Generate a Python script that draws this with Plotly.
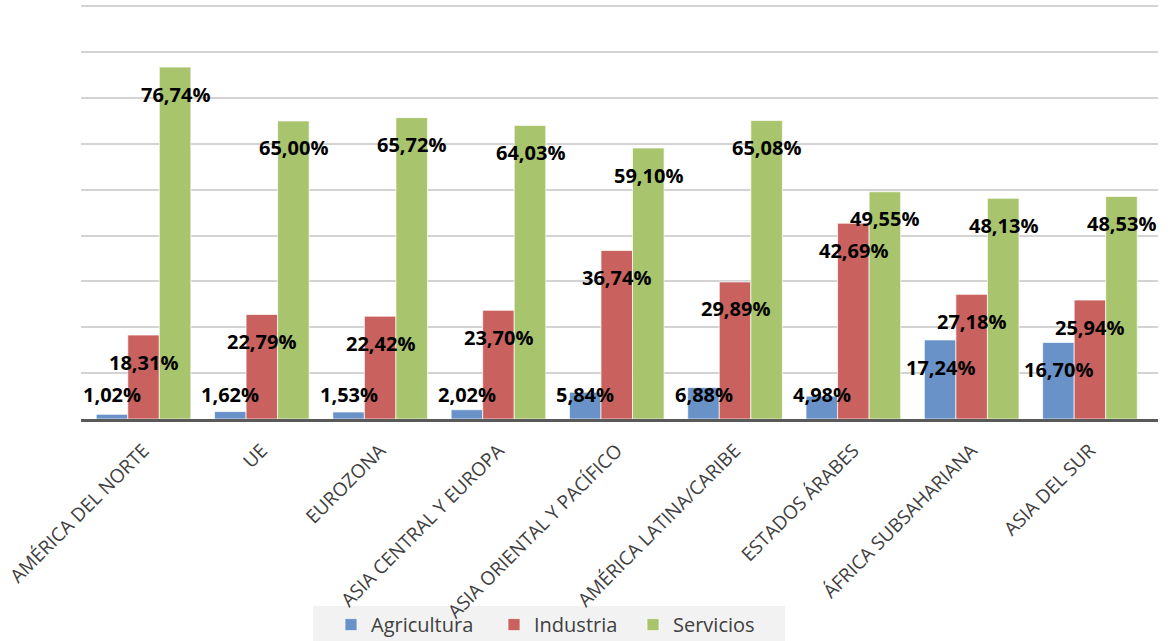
import plotly.graph_objects as go

# Employment by sector (% of total) per region
regiones = [
    "AMÉRICA DEL NORTE", "UE", "EUROZONA", "ASIA CENTRAL Y EUROPA",
    "ASIA ORIENTAL Y PACÍFICO", "AMÉRICA LATINA/CARIBE", "ESTADOS ÁRABES",
    "ÁFRICA SUBSAHARIANA", "ASIA DEL SUR",
]
agricultura = [1.02, 1.62, 1.53, 2.02, 5.84, 6.88, 4.98, 17.24, 16.70]
industria = [18.31, 22.79, 22.42, 23.70, 36.74, 29.89, 42.69, 27.18, 25.94]
servicios = [76.74, 65.00, 65.72, 64.03, 59.10, 65.08, 49.55, 48.13, 48.53]

series = [
    ("Agricultura", agricultura, "#6992C8"),
    ("Industria", industria, "#C9625F"),
    ("Servicios", servicios, "#A8C46D"),
]
# one legend per series so each entry can be placed on the shared strip
leyendas = ["legend", "legend2", "legend3"]
leyenda_x = [331, 494, 633]

W, H = 1169, 641
fig = go.Figure()
for (nombre, valores, color), ley in zip(series, leyendas):
    fig.add_trace(go.Bar(
        name=nombre, x=regiones, y=valores, legend=ley,
        marker=dict(color=color, line=dict(color="rgba(255,255,255,0.7)", width=1)),
        hoverinfo="skip",
    ))

# Value labels: centred on each bar, just inside its top end
bar_w = 0.8 / 3
anotaciones = []
for k, (nombre, valores, color) in enumerate(series):
    off = (k - 1) * bar_w
    for i, v in enumerate(valores):
        y_lab = max(v - 5.9, 5.35)
        anotaciones.append(dict(
            x=i + off, y=y_lab, xref="x", yref="y",
            text=f"{v:.2f}%".replace(".", ","),
            showarrow=False, xanchor="center", yanchor="middle",
            font=dict(family="Open Sans", size=20, color="#000000", weight="bold"),
        ))

leg_common = dict(
    orientation="h", xref="container", yref="container",
    xanchor="left", y=0.056, yanchor="top",
    bgcolor="rgba(0,0,0,0)",
    font=dict(family="Open Sans", size=20, color="#404040"),
    itemwidth=30,
)
leg_layout = {ley: dict(leg_common, x=lx / W) for ley, lx in zip(leyendas, leyenda_x)}

fig.update_layout(
    width=W, height=H,
    margin=dict(l=81, r=11, t=4, b=222),
    plot_bgcolor="white", paper_bgcolor="white",
    barmode="group", bargap=0.2, bargroupgap=0,
    annotations=anotaciones,
    showlegend=True,
    font=dict(family="Open Sans"),
    shapes=[dict(
        type="rect", xref="paper", yref="paper", layer="below",
        x0=(313 - 81) / 1077, x1=(785 - 81) / 1077,
        y0=(419 - 641) / 415, y1=(419 - 606) / 415,
        fillcolor="#F2F2F2", line=dict(width=0),
    )],
    **leg_layout,
)
fig.update_yaxes(
    range=[0, 90.5], tick0=0, dtick=10, showticklabels=False,
    showgrid=True, gridcolor="#D3D3D3", gridwidth=2, zeroline=False,
)
fig.update_xaxes(
    showline=True, linecolor="#595959", linewidth=3, automargin=False,
    tickangle=-45, ticks="", ticklabelstandoff=10,
    tickfont=dict(family="Open Sans", size=19, color="#404040"),
)

fig.write_html("out.html")
